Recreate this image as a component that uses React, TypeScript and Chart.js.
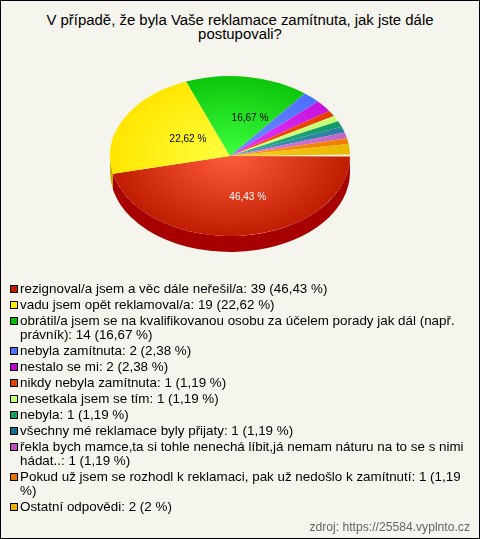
import React, { useEffect, useRef } from "react";
import { Chart, registerables } from "chart.js";

Chart.register(...registerables);

const titleLines = ["V případě, že byla Vaše reklamace zamítnuta, jak jste dále", "postupovali?"];
const categories = [
  "rezignoval/a jsem a věc dále neřešil/a",
  "vadu jsem opět reklamoval/a",
  "obrátil/a jsem se na kvalifikovanou osobu za účelem porady jak dál (např. právník)",
  "nebyla zamítnuta",
  "nestalo se mi",
  "nikdy nebyla zamítnuta",
  "nesetkala jsem se tím",
  "nebyla",
  "všechny mé reklamace byly přijaty",
  "řekla bych mamce,ta si tohle nenechá líbit,já nemam náturu na to se s nimi hádat..",
  "Pokud už jsem se rozhodl k reklamaci, pak už nedošlo k zamítnutí",
  "Ostatní odpovědi",
];
const counts = [39, 19, 14, 2, 2, 1, 1, 1, 1, 1, 1, 2];
const percentLabels = ["46,43 %", "22,62 %", "16,67 %", "2,38 %", "2,38 %", "1,19 %", "1,19 %", "1,19 %", "1,19 %", "1,19 %", "1,19 %", "2 %"];
const sliceInner = ["#ff5c3c", "#ffff40", "#3cff3c", "#6c8cff", "#ec38ff", "#ff5014", "#dcff88", "#28b080", "#3c98b4", "#dc80dc", "#ff9a18", "#ffcc20"];
const sliceOuter = ["#c01c00", "#ffe600", "#0cc60c", "#4c70ff", "#c414dc", "#e83c00", "#c4ff70", "#109868", "#2880a0", "#c464c8", "#ee7c00", "#e8b800"];
const wallColors = ["#a80000", "#c8b000", "#0a9a0a", "#3050c0", "#9010a8", "#b03000", "#98c850", "#0c7850", "#1c6078", "#984c98", "#b86000", "#b89000"];
const swatchColors = ["#c41e00", "#ffea00", "#00c000", "#4c70ff", "#c000d0", "#e04000", "#c8ff70", "#10a060", "#107090", "#c050c0", "#e87000", "#e8b000"];
const labelledSlices = [0, 1, 2];
const labelColors = ["#ffffff", "#000000", "#000000"];
const sourceText = "zdroj: https://25584.vyplnto.cz";

const TILT = 2 / 3;
const DEPTH = 16;

const tiltPlugin = {
  id: "tilt",
  beforeDatasetsDraw(chart: any) {
    const arcs = chart.getDatasetMeta(0).data;
    const { x: cx, y: cy, outerRadius: r } = arcs[0];
    const ctx = chart.ctx;
    arcs.forEach((arc: any, i: number) => {
      const a = Math.max(arc.startAngle, 0);
      const b = Math.min(arc.endAngle, Math.PI);
      if (b <= a) return;
      ctx.beginPath();
      ctx.ellipse(cx, cy, r, r * TILT, 0, a, b);
      ctx.ellipse(cx, cy + DEPTH, r, r * TILT, 0, b, a, true);
      ctx.closePath();
      ctx.fillStyle = wallColors[i];
      ctx.fill();
    });
    ctx.save();
    ctx.translate(cx, cy);
    ctx.scale(1, TILT);
    ctx.translate(-cx, -cy);
  },
  afterDatasetsDraw(chart: any) {
    const ctx = chart.ctx;
    ctx.restore();
    const arcs = chart.getDatasetMeta(0).data;
    const { x: cx, y: cy, outerRadius: r } = arcs[0];
    ctx.beginPath();
    ctx.moveTo(cx + 6, cy);
    ctx.lineTo(cx + r, cy - 1.5);
    ctx.lineTo(cx + r, cy + 0.5);
    ctx.closePath();
    ctx.fillStyle = "#fff6e8";
    ctx.fill();
    ctx.font = "10px 'Liberation Sans', Arial, sans-serif";
    ctx.textAlign = "center";
    ctx.textBaseline = "middle";
    labelledSlices.forEach((i, k) => {
      const arc = arcs[i];
      const mid = (arc.startAngle + arc.endAngle) / 2;
      ctx.fillStyle = labelColors[k];
      ctx.fillText(percentLabels[i], cx + (r / 2) * Math.cos(mid) + 11, cy + (r / 2) * Math.sin(mid) * TILT + 2);
    });
  },
};

export default function App() {
  const ref = useRef<HTMLCanvasElement>(null);
  useEffect(() => {
    const chart = new Chart(ref.current as HTMLCanvasElement, {
      type: "pie",
      plugins: [tiltPlugin],
      data: {
        labels: categories,
        datasets: [
          {
            data: counts,
            borderWidth: 0,
            clip: false,
            backgroundColor: (c: any) => {
              const area = c.chart.chartArea;
              if (!area) return sliceOuter[c.dataIndex];
              const x = (area.left + area.right) / 2;
              const y = (area.top + area.bottom) / 2;
              const g = c.chart.ctx.createRadialGradient(x, y, 0, x, y, 120);
              g.addColorStop(0, sliceInner[c.dataIndex]);
              g.addColorStop(1, sliceOuter[c.dataIndex]);
              return g;
            },
          } as any,
        ],
      },
      options: {
        animation: false,
        responsive: false,
        events: [],
        rotation: 90,
        radius: 120,
        layout: { padding: 0 },
        plugins: { legend: { display: false }, tooltip: { enabled: false }, title: { display: false } },
      } as any,
    });
    return () => chart.destroy();
  }, []);

  const font = "'Liberation Sans', Arial, sans-serif";
  return (
    <div style={{ position: "absolute", left: 0, top: 0, width: 480, height: 539, boxSizing: "border-box", border: "1px solid #000", background: "#f5f5ee", fontFamily: font, color: "#000", overflow: "hidden" }}>
      <div style={{ position: "absolute", left: -1, top: 12, width: 480, textAlign: "center", fontSize: 14.93, lineHeight: "14px" }}>
        {titleLines.map((t) => (
          <div key={t}>{t}</div>
        ))}
      </div>
      <canvas ref={ref} width={460} height={312} style={{ position: "absolute", left: -1, top: -1, display: "block" }} />
      <div style={{ position: "absolute", left: 19, top: 281, width: 453, fontSize: 13.4, lineHeight: "14px" }}>
        {categories.map((c, i) => (
          <div key={c} style={{ position: "relative", marginBottom: 2 }}>
            <span style={{ position: "absolute", left: -10, top: 3, width: 6, height: 6, border: "1px solid #000", background: swatchColors[i] }} />
            {`${c}: ${counts[i]} (${percentLabels[i]})`}
          </div>
        ))}
      </div>
      <div style={{ position: "absolute", right: 9, top: 519, fontSize: 12.15, lineHeight: "14px", color: "#666" }}>{sourceText}</div>
    </div>
  );
}
